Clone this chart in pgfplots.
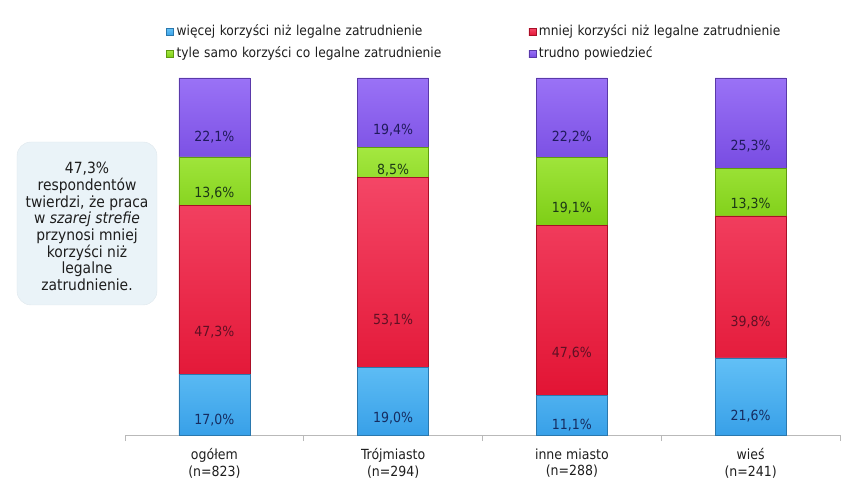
\documentclass[border=0pt]{standalone}
\usepackage{fontspec}
\setmainfont{DejaVu Sans Condensed}
\usepackage{pgfplots}
\usepackage{pgfplotstable}
\pgfplotsset{compat=1.18}
\definecolor{cbluet}{RGB}{98,192,246}
\definecolor{cblueb}{RGB}{56,160,232}
\definecolor{credt}{RGB}{244,70,102}
\definecolor{credb}{RGB}{226,20,52}
\definecolor{cgreent}{RGB}{164,232,64}
\definecolor{cgreenb}{RGB}{126,206,22}
\definecolor{cpurplet}{RGB}{154,114,246}
\definecolor{cpurpleb}{RGB}{120,76,226}
\definecolor{tblue}{RGB}{22,44,96}
\definecolor{tred}{RGB}{96,16,36}
\definecolor{tgreen}{RGB}{28,56,22}
\definecolor{tpurple}{RGB}{32,26,92}
\definecolor{boxfill}{RGB}{234,243,248}
\definecolor{axgray}{RGB}{185,185,185}
\definecolor{txt}{RGB}{30,30,30}

\pgfplotstableread{
x blue red green purple
0 17.0 47.3 13.6 22.1
1 19.0 53.1 8.5 19.4
2 11.1 47.6 19.1 22.2
3 21.6 39.8 13.3 25.3
}\data

\pgfplotsset{
  sq legend/.style={legend image code/.code={%
    \draw[##1] (0bp,-3.5bp) rectangle (7bp,3.5bp);
    \path (0bp,0bp) (10bp,0bp);}},
}

\begin{document}
\begin{tikzpicture}
\useasboundingbox (-125bp,-48bp) rectangle (727bp,435bp);
\draw[rounded corners=14bp, fill=boxfill, draw=boxfill!90!gray] (-108bp,130bp) rectangle (32bp,293bp);
\node[align=center, font=\fontsize{15.5}{16.7}\selectfont, text=txt] at (-38bp,208.5bp)
  {47,3\%\\respondentów\\twierdzi, że praca\\w \textit{szarej strefie}\\przynosi mniej\\korzyści niż\\legalne\\zatrudnienie.};
\begin{axis}[
  at={(0,0)}, anchor=south west,
  scale only axis, width=715bp, height=357bp,
  xmin=-0.5, xmax=3.5, ymin=0, ymax=100,
  enlargelimits=false,
  ybar stacked, bar width=71bp,
  axis y line=none, axis x line=bottom,
  x axis line style={-, draw=axgray, line width=0.8bp},
  tick pos=left,
  xtick={0,1,2,3},
  xticklabels={{ogółem\\(n=823)},{Trójmiasto\\(n=294)},{inne miasto\\(n=288)},{wieś\\(n=241)}},
  major tick length=0pt,
  extra x ticks={-0.5,0.5,1.5,2.5,3.5},
  extra x tick labels={},
  extra x tick style={major tick length=6bp, tick align=outside, tick style={draw=axgray, line width=0.8bp}},
  xticklabel style={align=center, font=\fontsize{14}{16.3}\selectfont, inner sep=0pt, yshift=-13.5bp, text=txt},
  point meta=explicit,
  visualization depends on={rawy \as \segval},
  nodes near coords={\pgfmathprintnumber[fixed,fixed zerofill,precision=1,use comma,assume math mode=true]{\pgfplotspointmeta}\%},
  every node near coord/.append style={anchor=center, font=\fontsize{14}{16}\selectfont, yshift={-0.8925bp*\segval}},
  legend columns=2,
  legend style={at={(0.0573,1.1457)}, anchor=north west, draw=none, fill=none, inner sep=0pt,
    row sep=9.5bp,
    nodes={inner sep=0pt, text height=9.5bp, text depth=2.5bp, font=\fontsize{13.7}{14}\selectfont, text width=352bp, align=left, text=txt}},
]
\addplot[top color=cbluet, bottom color=cblueb, draw=cblueb!75!black, sq legend,
  every node near coord/.append style={text=tblue}]
  table[x=x, y=blue, meta=blue]{\data};
\addplot[top color=credt, bottom color=credb, draw=credb!75!black, sq legend,
  every node near coord/.append style={text=tred}]
  table[x=x, y=red, meta=red]{\data};
\addplot[top color=cgreent, bottom color=cgreenb, draw=cgreenb!75!black, sq legend,
  every node near coord/.append style={text=tgreen}]
  table[x=x, y=green, meta=green]{\data};
\addplot[top color=cpurplet, bottom color=cpurpleb, draw=cpurpleb!75!black, sq legend,
  every node near coord/.append style={text=tpurple}]
  table[x=x, y=purple, meta=purple]{\data};
\legend{więcej korzyści niż legalne zatrudnienie, mniej korzyści niż legalne zatrudnienie, tyle samo korzyści co legalne zatrudnienie, trudno powiedzieć}
\end{axis}
\end{tikzpicture}
\end{document}
